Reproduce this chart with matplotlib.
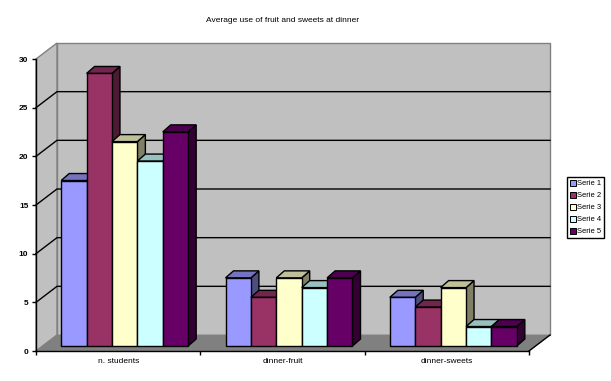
import matplotlib
matplotlib.use('Agg')
import matplotlib.pyplot as plt
from matplotlib.patches import Polygon, Patch

plt.rcParams['font.family'] = ['Liberation Sans', 'DejaVu Sans']

categories = ['n. students', 'dinner-fruit', 'dinner-sweets']
series_names = ['Serie 1', 'Serie 2', 'Serie 3', 'Serie 4', 'Serie 5']
serie1 = [17, 7, 5]
serie2 = [28, 5, 4]
serie3 = [21, 7, 6]
serie4 = [19, 6, 2]
serie5 = [22, 7, 2]
series = [serie1, serie2, serie3, serie4, serie5]
colors = ['#9999FF', '#993366', '#FFFFCC', '#CCFFFF', '#660066']
yticks = [0, 5, 10, 15, 20, 25, 30]


def shade(color, f):
    rgb = matplotlib.colors.to_rgb(color)
    return tuple(c * f for c in rgb)


W, H = 611, 381
fig = plt.figure(figsize=(W / 100, H / 100), dpi=100)
# axes = front plane of the fake 3d box
ax = fig.add_axes([36 / W, (H - 351) / H, 493 / W, 292 / H])
ax.set_xlim(0, 3)
ax.set_ylim(0, 30)
ax.patch.set_visible(False)

# pixel sizes in data units
px = 3 / 493
py = 30 / 292
wall_dx, wall_dy = 21 * px, 16 * py
base_dx, base_dy = 6.5 * px, 5 * py
bar_dx, bar_dy = 8 * px, 7 * py
bar_w = 25.4 * px

grey = '#C0C0C0'
dark = '#808080'

# walls and floor
ax.add_patch(Polygon([(wall_dx, wall_dy), (3 + wall_dx, wall_dy), (3 + wall_dx, 30 + wall_dy), (wall_dx, 30 + wall_dy)],
                     fc=grey, ec=dark, lw=1, clip_on=False, zorder=1))
ax.add_patch(Polygon([(0, 0), (wall_dx, wall_dy), (wall_dx, 30 + wall_dy), (0, 30)],
                     fc=grey, ec=dark, lw=1, clip_on=False, zorder=1))
ax.add_patch(Polygon([(0, 0), (3, 0), (3 + wall_dx, wall_dy), (wall_dx, wall_dy)],
                     fc=dark, ec=dark, lw=0.5, clip_on=False, zorder=1))

# gridlines on back and side wall, none at the top edge
for t in yticks[1:-1]:
    ax.plot([0, wall_dx, 3 + wall_dx], [t, t + wall_dy, t + wall_dy], color='black', lw=1,
            clip_on=False, zorder=2, solid_joinstyle='miter')
ax.plot([3, 3 + wall_dx], [0, wall_dy], color='black', lw=1, clip_on=False, zorder=2)

# bars, left to right so later ones cover the side of earlier ones
z = 3
for i in range(len(categories)):
    for j, vals in enumerate(series):
        v = vals[i]
        x0 = i + 0.5 + base_dx + (j - 2.5) * bar_w
        x1 = x0 + bar_w
        y0 = base_dy
        y1 = base_dy + v
        ax.add_patch(Polygon([(x1, y0), (x1 + bar_dx, y0 + bar_dy), (x1 + bar_dx, y1 + bar_dy), (x1, y1)],
                             fc=shade(colors[j], 0.5), ec='black', lw=1, clip_on=False, zorder=z))
        ax.add_patch(Polygon([(x0, y1), (x1, y1), (x1 + bar_dx, y1 + bar_dy), (x0 + bar_dx, y1 + bar_dy)],
                             fc=shade(colors[j], 0.75), ec='black', lw=1, clip_on=False, zorder=z))
        ax.bar(x0, v, width=bar_w, bottom=y0, align='edge', color=colors[j], edgecolor='black', lw=1,
               clip_on=False, zorder=z)
        z += 1

for s in ['top', 'right']:
    ax.spines[s].set_visible(False)
for s in ['left', 'bottom']:
    ax.spines[s].set_linewidth(1)
    ax.spines[s].set_zorder(2.5)

ax.set_yticks(yticks)
ax.set_yticklabels([str(t) for t in yticks], fontsize=6, fontweight='bold')
ax.set_xticks([0, 1, 2, 3])
ax.set_xticklabels([])
ax.set_xticks([0.5, 1.5, 2.5], minor=True)
ax.set_xticklabels(categories, minor=True, fontsize=6)
ax.tick_params(axis='x', which='minor', length=0, pad=5)
ax.tick_params(axis='both', which='major', length=3, width=1, pad=2.5)

fig.text(283 / W, 1 - 20 / H, 'Average use of fruit and sweets at dinner', fontsize=6, ha='center', va='center')

handles = [Patch(facecolor=c, edgecolor='black', lw=0.7) for c in colors]
leg = fig.legend(handles, series_names, loc='upper left', bbox_to_anchor=(567 / W, 1 - 177 / H),
                 bbox_transform=fig.transFigure, fontsize=5.5, frameon=True, fancybox=False,
                 edgecolor='black', framealpha=1, handlelength=0.8, handleheight=0.8, handletextpad=0.15,
                 labelspacing=0.58, borderpad=0.35, borderaxespad=0)
leg.get_frame().set_linewidth(1)

fig.savefig('out.png', dpi=100)
